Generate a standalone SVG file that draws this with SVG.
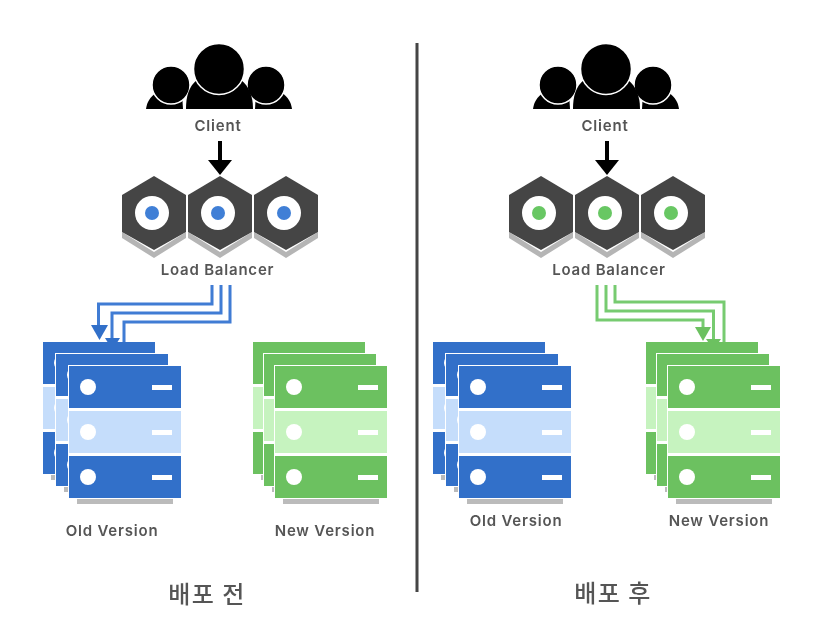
<svg xmlns="http://www.w3.org/2000/svg" width="832" height="632" viewBox="0 0 832 632">
<style>
.lbl{font-family:"Inter","Liberation Sans",sans-serif;font-size:15px;font-weight:600;fill:#555;text-anchor:middle;letter-spacing:.8px}
.ttl{font-family:"Noto Sans CJK KR",sans-serif;font-size:24px;font-weight:500;fill:#555;text-anchor:middle;letter-spacing:1.5px}
.bl{fill:none;stroke:#3f7bd4;stroke-width:3}
.gr{fill:none;stroke:#77cb70;stroke-width:3}
</style>
<defs>
<filter id="soft" x="-5%" y="-5%" width="110%" height="110%"><feGaussianBlur stdDeviation="0.55"/></filter>
<g id="people">
<path d="M146 109C147 102 150 97 156 93L182 93L183 109Z" fill="#000"/>
<path d="M292 109C291 102 288 97 282 93L256 93L255 109Z" fill="#000"/>
<circle cx="171" cy="85" r="19" fill="#000" stroke="#fff" stroke-width="1.500"/>
<circle cx="266" cy="85" r="19" fill="#000" stroke="#fff" stroke-width="1.500"/>
<path d="M186 109C186 96 189 86 197 80L241 80C249 86 253 96 253 109Z" fill="#000"/>
<circle cx="219" cy="69" r="25.500" fill="#000" stroke="#fff" stroke-width="1.500"/>
</g>
<g id="hex">
<path d="M-32 19L0 39 32 19 32 25 0 45 -32 25Z" fill="#b5b5b5"/>
<path d="M0 -37L32 -18 32 19 0 37 -32 19 -32 -18Z" fill="#444"/>
<circle cx="-2" r="17" fill="#fff"/>
</g>
<g id="rack-b">
<rect x="0" y="0" width="112" height="42" fill="#326fc9"/>
<rect x="0" y="45" width="112" height="42" fill="#c5ddfb"/>
<rect x="0" y="90" width="112" height="42" fill="#326fc9"/>
<g fill="#fff"><circle cx="19" cy="21" r="8"/><circle cx="19" cy="66" r="8"/><circle cx="19" cy="111" r="8"/>
<rect x="83" y="19" width="20" height="5"/><rect x="83" y="64" width="20" height="5"/><rect x="83" y="109" width="20" height="5"/></g>
</g>
<g id="rack-g">
<rect x="0" y="0" width="112" height="42" fill="#6cc160"/>
<rect x="0" y="45" width="112" height="42" fill="#c6f3bf"/>
<rect x="0" y="90" width="112" height="42" fill="#6cc160"/>
<g fill="#fff"><circle cx="19" cy="21" r="8"/><circle cx="19" cy="66" r="8"/><circle cx="19" cy="111" r="8"/>
<rect x="83" y="19" width="20" height="5"/><rect x="83" y="64" width="20" height="5"/><rect x="83" y="109" width="20" height="5"/></g>
</g>
<g id="stack-b">
<rect x="8" y="133" width="96" height="5" fill="#bbb"/>
<rect x="-5" y="121" width="6" height="5" fill="#bbb"/>
<rect x="-18" y="109" width="6" height="5" fill="#bbb"/>
<use href="#rack-b" x="-26" y="-24"/>
<rect x="-14" y="-13" width="114" height="134" fill="#fff"/>
<use href="#rack-b" x="-13" y="-12"/>
<rect x="-1" y="-1" width="114" height="134" fill="#fff"/>
<use href="#rack-b"/>
</g>
<g id="stack-g">
<rect x="8" y="133" width="96" height="5" fill="#bbb"/>
<rect x="-3" y="121" width="6" height="5" fill="#bbb"/>
<rect x="-14" y="109" width="6" height="5" fill="#bbb"/>
<use href="#rack-g" x="-22" y="-24"/>
<rect x="-12" y="-13" width="114" height="134" fill="#fff"/>
<use href="#rack-g" x="-11" y="-12"/>
<rect x="-1" y="-1" width="114" height="134" fill="#fff"/>
<use href="#rack-g"/>
</g>
</defs>
<rect width="832" height="632" fill="#fff"/>
<g filter="url(#soft)">
<g id="connectors">
<path d="M220 141V162" fill="none" stroke="#000" stroke-width="4"/>
<path d="M208 160H232L220 175Z" fill="#000"/>
<path d="M607 141V162" fill="none" stroke="#000" stroke-width="4"/>
<path d="M595 160H619L607 175Z" fill="#000"/>
<path class="bl" d="M212 285V304H98.500V327"/>
<path d="M91 325H108L99.500 340Z" fill="#326fc9"/>
<path class="bl" d="M221 285V313H112V339"/>
<path d="M105 338H120L112.500 350Z" fill="#326fc9"/>
<path class="bl" d="M230 285V322H124V350"/>
<path d="M118 350H131L124.500 362Z" fill="#326fc9"/>
<path class="gr" d="M597 285V320H703V329"/>
<path d="M695 327H711L703 341Z" fill="#6cc160"/>
<path class="gr" d="M606 285V311H713.500V340"/>
<path d="M706 339H721L713.500 350Z" fill="#6cc160"/>
<path class="gr" d="M615 285V302H724V350"/>
<path d="M718 350H731L724.500 362Z" fill="#6cc160"/>
</g>
<path id="divider" d="M417 43V592" stroke="#444" stroke-width="3" fill="none"/>
<g id="client-before"><use href="#people"/><text class="lbl" x="218" y="131">Client</text></g>
<g id="lb-before">
<use href="#hex" x="154" y="213"/><circle cx="152" cy="213" r="7" fill="#3f7fd6"/>
<use href="#hex" x="220" y="213"/><circle cx="218" cy="213" r="7" fill="#3f7fd6"/>
<use href="#hex" x="286" y="213"/><circle cx="284" cy="213" r="7" fill="#3f7fd6"/>
<text class="lbl" x="217.500" y="275">Load Balancer</text>
</g>
<g id="old-before"><use href="#stack-b" x="69" y="366"/><text class="lbl" x="112" y="536">Old Version</text></g>
<g id="new-before"><use href="#stack-g" x="275" y="366"/><text class="lbl" x="325" y="536">New Version</text></g>
<g id="client-after"><use href="#people" x="387"/><text class="lbl" x="605" y="131">Client</text></g>
<g id="lb-after">
<use href="#hex" x="541" y="213"/><circle cx="539" cy="213" r="7" fill="#67c763"/>
<use href="#hex" x="607" y="213"/><circle cx="605" cy="213" r="7" fill="#67c763"/>
<use href="#hex" x="673" y="213"/><circle cx="671" cy="213" r="7" fill="#67c763"/>
<text class="lbl" x="609" y="275">Load Balancer</text>
</g>
<g id="old-after"><use href="#stack-b" x="459" y="366"/><text class="lbl" x="516" y="526">Old Version</text></g>
<g id="new-after"><use href="#stack-g" x="668" y="366"/><text class="lbl" x="719" y="526">New Version</text></g>
<text class="ttl" x="207" y="603">배포 전</text>
<text class="ttl" x="613" y="602">배포 후</text>
</g>
</svg>
